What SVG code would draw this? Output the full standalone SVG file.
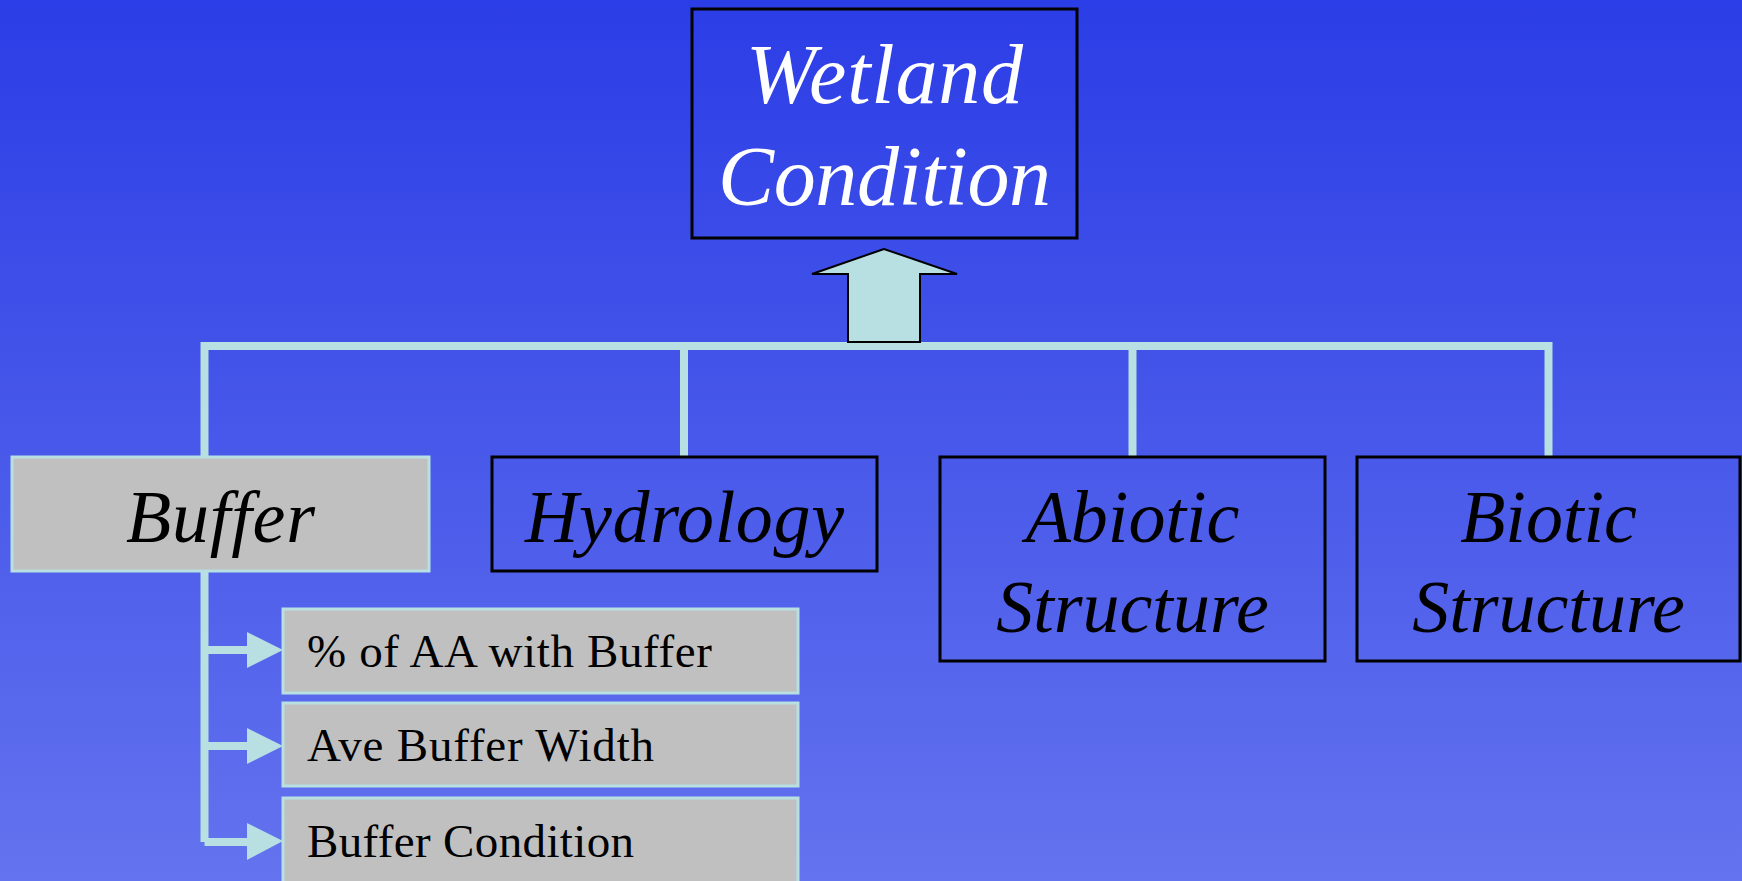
<svg xmlns="http://www.w3.org/2000/svg" width="1742" height="881" viewBox="0 0 1742 881">
<defs>
<linearGradient id="bg" x1="0" y1="0" x2="0" y2="1">
<stop offset="0" stop-color="#2B3DE6"/>
<stop offset="1" stop-color="#6473EE"/>
</linearGradient>
<style>
.box{fill:none;stroke:#000;stroke-width:3}
.gbox{fill:#C0C0C0;stroke:#B8DFE1;stroke-width:3}
.conn{fill:none;stroke:#B8DFE1;stroke-width:8}
.head{fill:#B8DFE1}
.ti{font-family:"Liberation Serif","Times New Roman",serif;font-style:italic;text-anchor:middle}
.tu{font-family:"Liberation Serif","Times New Roman",serif;font-size:47px;fill:#000}
</style>
</defs>
<rect x="0" y="0" width="1742" height="881" fill="url(#bg)"/>
<g id="connectors">
<path class="conn" d="M204.5,457 V346 H1548.5 V457"/>
<path class="conn" d="M684,346 V457"/>
<path class="conn" d="M1132.5,346 V457"/>
<path class="conn" d="M204.5,571 V842 M204.5,650 H250 M204.5,746 H250 M204.5,842 H250"/>
<polygon class="head" points="247,632 283,650 247,668"/>
<polygon class="head" points="247,728 283,746 247,764"/>
<polygon class="head" points="247,823 283,841 247,860"/>
<polygon points="884,249 812,274 848,274 848,342 920,342 920,274 957,274 884,249" fill="#B8DFE1" stroke="#000" stroke-width="2"/>
</g>
<g id="wetland-condition">
<rect class="box" x="692" y="9" width="385" height="229"/>
<text class="ti" x="884.5" y="103" font-size="84" fill="#FFF" textLength="277" lengthAdjust="spacing">Wetland</text>
<text class="ti" x="884.5" y="205" font-size="84" fill="#FFF" textLength="333" lengthAdjust="spacing">Condition</text>
</g>
<g id="buffer">
<rect class="gbox" x="12" y="457" width="417" height="114"/>
<text class="ti" x="220.5" y="542" font-size="74" textLength="189" lengthAdjust="spacing">Buffer</text>
</g>
<g id="hydrology">
<rect class="box" x="492" y="457" width="385" height="114"/>
<text class="ti" x="684.5" y="542" font-size="74" textLength="319" lengthAdjust="spacing">Hydrology</text>
</g>
<g id="abiotic-structure">
<rect class="box" x="940" y="457" width="385" height="204"/>
<text class="ti" x="1132.5" y="542" font-size="74">Abiotic</text>
<text class="ti" x="1132.5" y="632" font-size="74">Structure</text>
</g>
<g id="biotic-structure">
<rect class="box" x="1357" y="457" width="383" height="204"/>
<text class="ti" x="1548.5" y="542" font-size="74">Biotic</text>
<text class="ti" x="1548.5" y="632" font-size="74">Structure</text>
</g>
<g id="pct-aa-with-buffer">
<rect class="gbox" x="283" y="609" width="515" height="84"/>
<text class="tu" x="307" y="667" textLength="405" lengthAdjust="spacing">% of AA with Buffer</text>
</g>
<g id="ave-buffer-width">
<rect class="gbox" x="283" y="703" width="515" height="83"/>
<text class="tu" x="307" y="761" textLength="347" lengthAdjust="spacing">Ave Buffer Width</text>
</g>
<g id="buffer-condition">
<rect class="gbox" x="283" y="798" width="515" height="90"/>
<text class="tu" x="307" y="857" textLength="327" lengthAdjust="spacing">Buffer Condition</text>
</g>
</svg>
